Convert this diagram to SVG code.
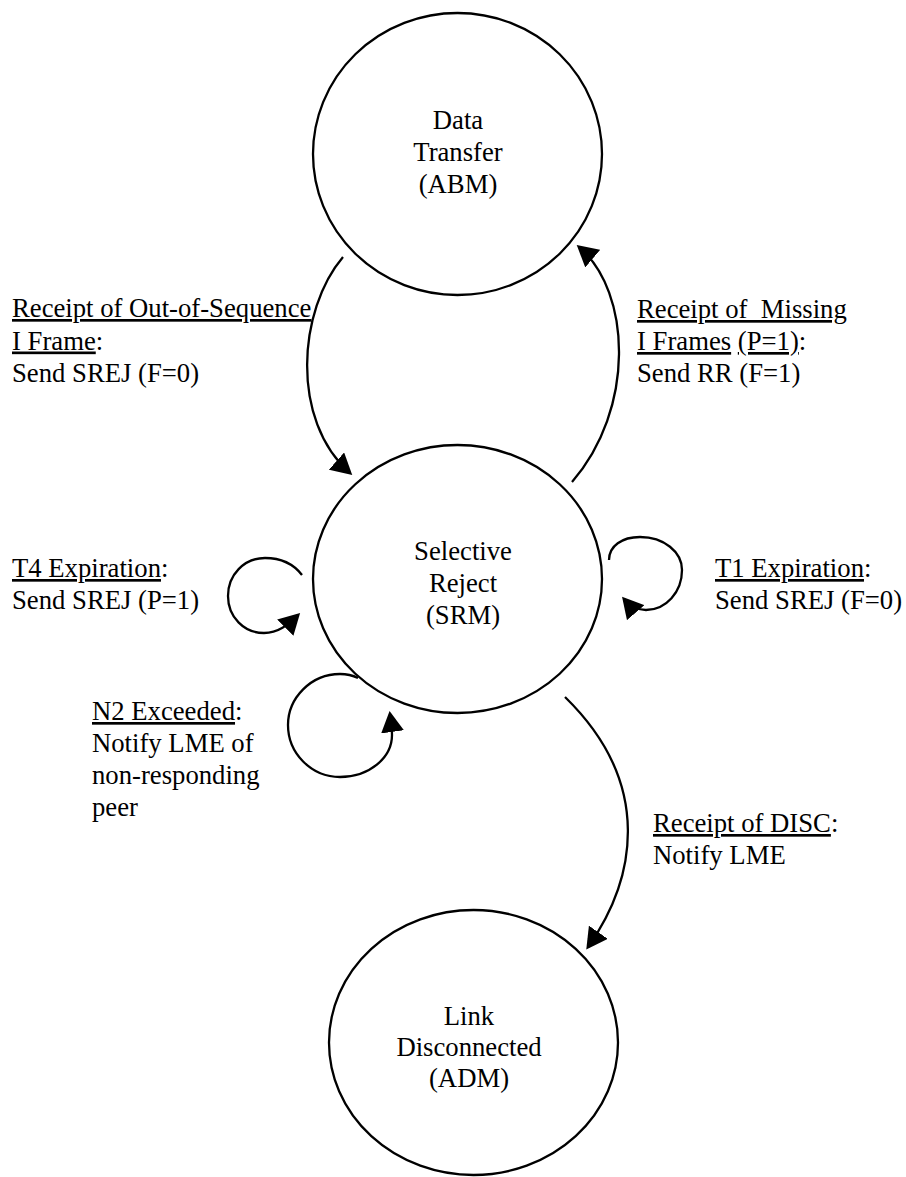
<svg xmlns="http://www.w3.org/2000/svg" width="906" height="1177" viewBox="0 0 906 1177">
<style>
.node{fill:#fff;stroke:#000;stroke-width:2.3}
.edge{fill:none;stroke:#000;stroke-width:2.3;marker-end:url(#ah)}
text{font-family:"Liberation Serif","Times New Roman",Times,serif;font-size:26.7px;fill:#000}
.c{text-anchor:middle}
.u{text-decoration:underline}
</style>
<defs>
<marker id="ah" markerUnits="userSpaceOnUse" markerWidth="21" markerHeight="23" viewBox="0 0 21 23" refX="18" refY="11.5" orient="auto">
<path d="M0,0 L21,11.5 L0,23 z" fill="#000"/>
</marker>
</defs>
<rect width="906" height="1177" fill="#fff"/>
<g id="connectors">
<path class="edge" d="M343,257 C298,310 290,420 350,473"/>
<path class="edge" d="M572,482 C635,410 632,292 579,247"/>
<path class="edge" d="M302,575 C292,562 280,558 265,558 C244,558 228,575 228,596 C228,617 244,633 264,633 C278,633 288,625 298,615"/>
<path class="edge" d="M609,560 C609,546 622,537 640,537 C664,537 682,552 682,570 C682,592 666,610 646,610 C637,610 630,606 624,599"/>
<path class="edge" d="M358,678 C352,675 346,674 340,674 C311,674 288,698 288,725 C288,753 311,777 340,777 C369,777 392,758 392,735 C392,728 391,721 390,714"/>
<path class="edge" d="M565,697 C655,785 635,880 588,947"/>
</g>
<g id="node-data-transfer">
<ellipse class="node" cx="457.5" cy="154" rx="144.5" ry="141"/>
<text class="c" x="458" y="129">Data</text>
<text class="c" x="458" y="161">Transfer</text>
<text class="c" x="458" y="193">(ABM)</text>
</g>
<g id="node-selective-reject">
<ellipse class="node" cx="457.5" cy="579" rx="144.5" ry="134"/>
<text class="c" x="463" y="560">Selective</text>
<text class="c" x="463" y="592">Reject</text>
<text class="c" x="463" y="624">(SRM)</text>
</g>
<g id="node-link-disconnected">
<ellipse class="node" cx="473.5" cy="1042.5" rx="144.5" ry="132.5"/>
<text class="c" x="469" y="1024.5">Link</text>
<text class="c" x="469" y="1056">Disconnected</text>
<text class="c" x="469" y="1087">(ADM)</text>
</g>
<g id="labels">
<text x="12" y="317"><tspan class="u">Receipt of Out-of-Sequence</tspan></text>
<text x="12" y="349.5"><tspan class="u">I Frame</tspan>:</text>
<text x="12" y="382">Send SREJ (F=0)</text>
<text x="637" y="318" xml:space="preserve"><tspan class="u">Receipt of  Missing</tspan></text>
<text x="637" y="350" xml:space="preserve"><tspan class="u">I Frames</tspan> <tspan class="u">(P=1)</tspan>:</text>
<text x="637" y="382">Send RR (F=1)</text>
<text x="12" y="577"><tspan class="u">T4 Expiration</tspan>:</text>
<text x="12" y="609">Send SREJ (P=1)</text>
<text x="715" y="577"><tspan class="u">T1 Expiration</tspan>:</text>
<text x="715" y="609">Send SREJ (F=0)</text>
<text x="92" y="720"><tspan class="u">N2 Exceeded</tspan>:</text>
<text x="92" y="752">Notify LME of</text>
<text x="92" y="784">non-responding</text>
<text x="92" y="816">peer</text>
<text x="653" y="832"><tspan class="u">Receipt of DISC</tspan>:</text>
<text x="653" y="864">Notify LME</text>
</g>
</svg>
